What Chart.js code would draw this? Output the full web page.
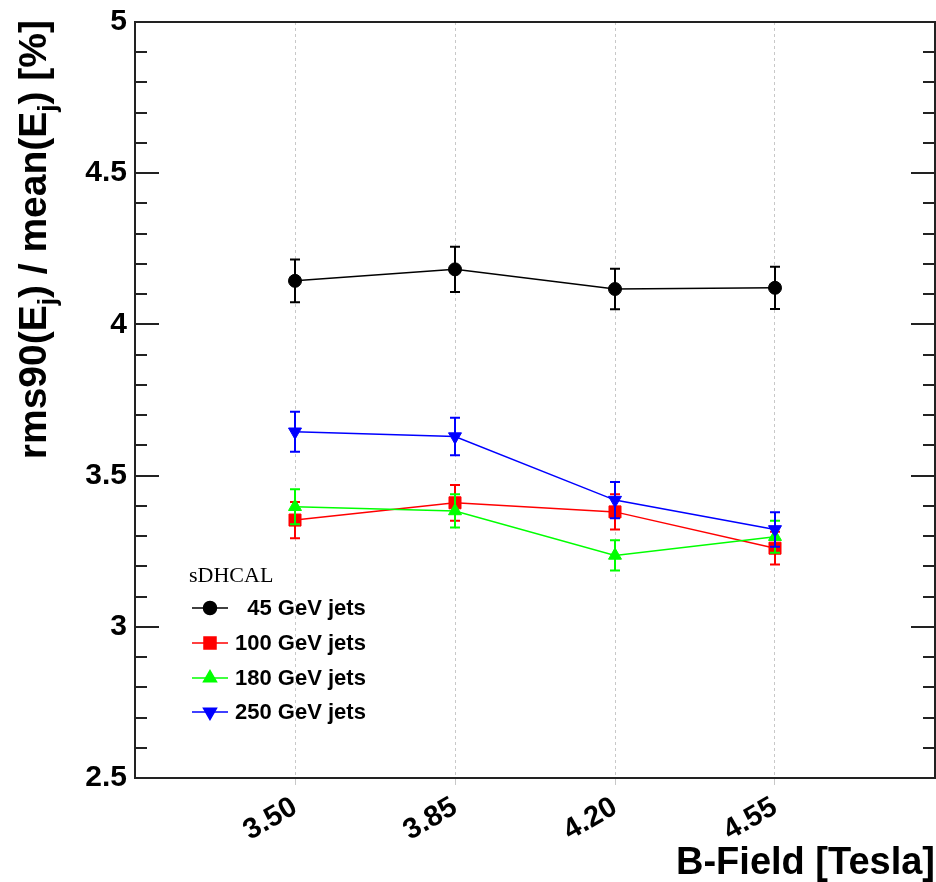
<!DOCTYPE html>
<html>
<head>
<meta charset="utf-8">
<script src="https://cdn.jsdelivr.net/npm/chart.js@4.4.1/dist/chart.umd.min.js"></script>
<style>
  html, body { margin: 0; padding: 0; background: #ffffff; overflow: hidden; }
  #wrap { width: 936px; height: 882px; }
  canvas { display: block; }
</style>
</head>
<body>
<div id="wrap"><canvas id="c" width="936" height="882"></canvas></div>
<script>
// ---- data ----
const xValues = [3.50, 3.85, 4.20, 4.55];
const xTickLabels = ['3.50', '3.85', '4.20', '4.55'];
const seriesNames = ['  45 GeV jets', '100 GeV jets', '180 GeV jets', '250 GeV jets'];
const jets45 = [4.144, 4.182, 4.117, 4.121];
const jets45Err = [0.071, 0.075, 0.067, 0.070];
const jets100 = [3.353, 3.410, 3.380, 3.260];
const jets100Err = [0.060, 0.059, 0.058, 0.054];
const jets180 = [3.397, 3.383, 3.236, 3.298];
const jets180Err = [0.058, 0.055, 0.050, 0.053];
const jets250 = [3.645, 3.629, 3.419, 3.322];
const jets250Err = [0.066, 0.062, 0.060, 0.057];
const legendTitle = 'sDHCAL';
const xTitle = 'B-Field [Tesla]';
const yTitleParts = [['rms90(E', 0], ['j', 1], [') / mean(E', 0], ['j', 1], [') [%]', 0]];
const yMin = 2.5, yMax = 5.0, yMinorStep = 0.1;
const xMin = 3.15, xMax = 4.90;

const FONT = '"Liberation Sans", Arial, Helvetica, sans-serif';

function mkDataset(name, vals, errs, color, style, rot, radius, order) {
  return {
    label: name,
    data: xValues.map((x, i) => ({ x: x, y: vals[i] })),
    errors: errs,
    borderColor: color,
    backgroundColor: color,
    pointBackgroundColor: color,
    pointBorderColor: color,
    pointStyle: style,
    pointRotation: rot,
    pointRadius: radius,
    pointBorderWidth: 1,
    borderWidth: 1.5,
    tension: 0,
    fill: false,
    order: order
  };
}

const datasets = [
  mkDataset(seriesNames[0], jets45, jets45Err, '#000000', 'circle', 0, 6.5, 3),
  mkDataset(seriesNames[1], jets100, jets100Err, '#ff0000', 'rect', 0, 8.5, 2),
  mkDataset(seriesNames[2], jets180, jets180Err, '#00ff00', 'triangle', 0, 7.5, 1),
  mkDataset(seriesNames[3], jets250, jets250Err, '#0000ff', 'triangle', 180, 7.5, 0)
];

const errorBarPlugin = {
  id: 'errorBars',
  beforeDatasetDraw(chart, args) {
    const ds = chart.data.datasets[args.index];
    const xs = chart.scales.x, ys = chart.scales.y;
    const ctx = chart.ctx;
    ctx.save();
    ctx.strokeStyle = ds.borderColor;
    ctx.lineWidth = 2;
    ds.data.forEach((p, i) => {
      const e = ds.errors[i];
      const x = xs.getPixelForValue(p.x);
      const y1 = ys.getPixelForValue(p.y + e);
      const y2 = ys.getPixelForValue(p.y - e);
      ctx.beginPath();
      ctx.moveTo(x, y1); ctx.lineTo(x, y2);
      ctx.moveTo(x - 5, y1); ctx.lineTo(x + 5, y1);
      ctx.moveTo(x - 5, y2); ctx.lineTo(x + 5, y2);
      ctx.stroke();
    });
    ctx.restore();
  }
};

const framePlugin = {
  id: 'frame',
  afterDraw(chart) {
    const ctx = chart.ctx;
    const a = chart.chartArea;
    const ys = chart.scales.y;
    ctx.save();
    ctx.strokeStyle = '#222222';
    ctx.lineWidth = 2;
    ctx.strokeRect(a.left, a.top, a.right - a.left, a.bottom - a.top);
    ys.ticks.forEach(t => {
      const y = Math.round(ys.getPixelForValue(t.value));
      const major = Math.abs(Math.round(t.value * 2) - t.value * 2) < 1e-6;
      const len = major ? 24 : 12;
      ctx.beginPath();
      ctx.moveTo(a.left, y); ctx.lineTo(a.left + len, y);
      ctx.moveTo(a.right, y); ctx.lineTo(a.right - len, y);
      ctx.stroke();
    });
    ctx.restore();

    // y-axis title with subscripts
    ctx.save();
    const big = 'bold 39px ' + FONT;
    const small = 'bold 26px ' + FONT;
    let total = 0;
    yTitleParts.forEach(([s, sub]) => { ctx.font = sub ? small : big; total += ctx.measureText(s).width; });
    const baseX = 46;
    const endY = 20;
    ctx.translate(baseX, endY + total);
    ctx.rotate(-Math.PI / 2);
    ctx.fillStyle = '#000';
    ctx.textBaseline = 'alphabetic';
    ctx.textAlign = 'left';
    let u = 0;
    yTitleParts.forEach(([s, sub]) => {
      ctx.font = sub ? small : big;
      ctx.fillText(s, u, sub ? 10 : 0);
      u += ctx.measureText(s).width;
    });
    ctx.restore();

    // legend
    ctx.save();
    ctx.fillStyle = '#000';
    ctx.font = '22px "Liberation Serif", "Times New Roman", serif';
    ctx.textBaseline = 'alphabetic';
    ctx.fillText(legendTitle, 189, 582);
    const rows = [608, 643, 678, 712];
    rows.forEach((y, di) => {
      const ds = chart.data.datasets[di];
      ctx.strokeStyle = ds.borderColor;
      ctx.lineWidth = 1.5;
      ctx.beginPath();
      ctx.moveTo(192, y); ctx.lineTo(228, y);
      ctx.stroke();
      ctx.fillStyle = ds.backgroundColor;
      ctx.strokeStyle = ds.borderColor;
      Chart.helpers.drawPoint(ctx, {
        pointStyle: ds.pointStyle, rotation: ds.pointRotation, radius: ds.pointRadius, borderWidth: 1
      }, 210, y);
      ctx.fillStyle = '#000';
      ctx.font = 'bold 22px ' + FONT;
      ctx.textBaseline = 'middle';
      ctx.fillText(ds.label, 235, y + 1);
    });
    ctx.restore();
  }
};

new Chart(document.getElementById('c'), {
  type: 'line',
  data: { datasets: datasets },
  plugins: [errorBarPlugin, framePlugin],
  options: {
    responsive: false,
    animation: false,
    devicePixelRatio: 1,
    layout: { autoPadding: false, padding: { top: 22, right: 1, left: 0, bottom: 0 } },
    plugins: { legend: { display: false }, tooltip: { enabled: false } },
    scales: {
      x: {
        type: 'linear',
        min: xMin, max: xMax,
        afterBuildTicks(s) { s.ticks = xValues.map(v => ({ value: v })); },
        afterFit(s) { s.height = 104; s.paddingLeft = 0; s.paddingRight = 0; },
        ticks: {
          autoSkip: false,
          minRotation: 30, maxRotation: 30,
          padding: 5,
          color: '#000',
          font: { family: FONT, size: 29, weight: 'bold' },
          callback(v) {
            const i = xValues.findIndex(x => Math.abs(x - v) < 1e-6);
            return i >= 0 ? xTickLabels[i] : '';
          }
        },
        grid: { color: '#c8c8c8', lineWidth: 1, drawOnChartArea: true, drawTicks: true, tickLength: 7 },
        border: { display: false, dash: [3, 3] },
        title: {
          display: true, text: xTitle, align: 'end', color: '#000',
          font: { family: FONT, size: 38, weight: 'bold' },
          padding: { top: 0, bottom: -4 }
        }
      },
      y: {
        type: 'linear',
        min: yMin, max: yMax,
        afterFit(s) { s.width = 135; s.paddingTop = 0; s.paddingBottom = 0; },
        ticks: {
          stepSize: yMinorStep,
          autoSkip: false,
          padding: 8,
          color: '#000',
          font: { family: FONT, size: 30, weight: 'bold' },
          callback(v) {
            const r = Math.round(v * 10);
            return (r % 5 === 0) ? String(r / 10) : '';
          }
        },
        grid: { display: false, drawTicks: false },
        border: { display: false }
      }
    }
  }
});
</script>
</body>
</html>
